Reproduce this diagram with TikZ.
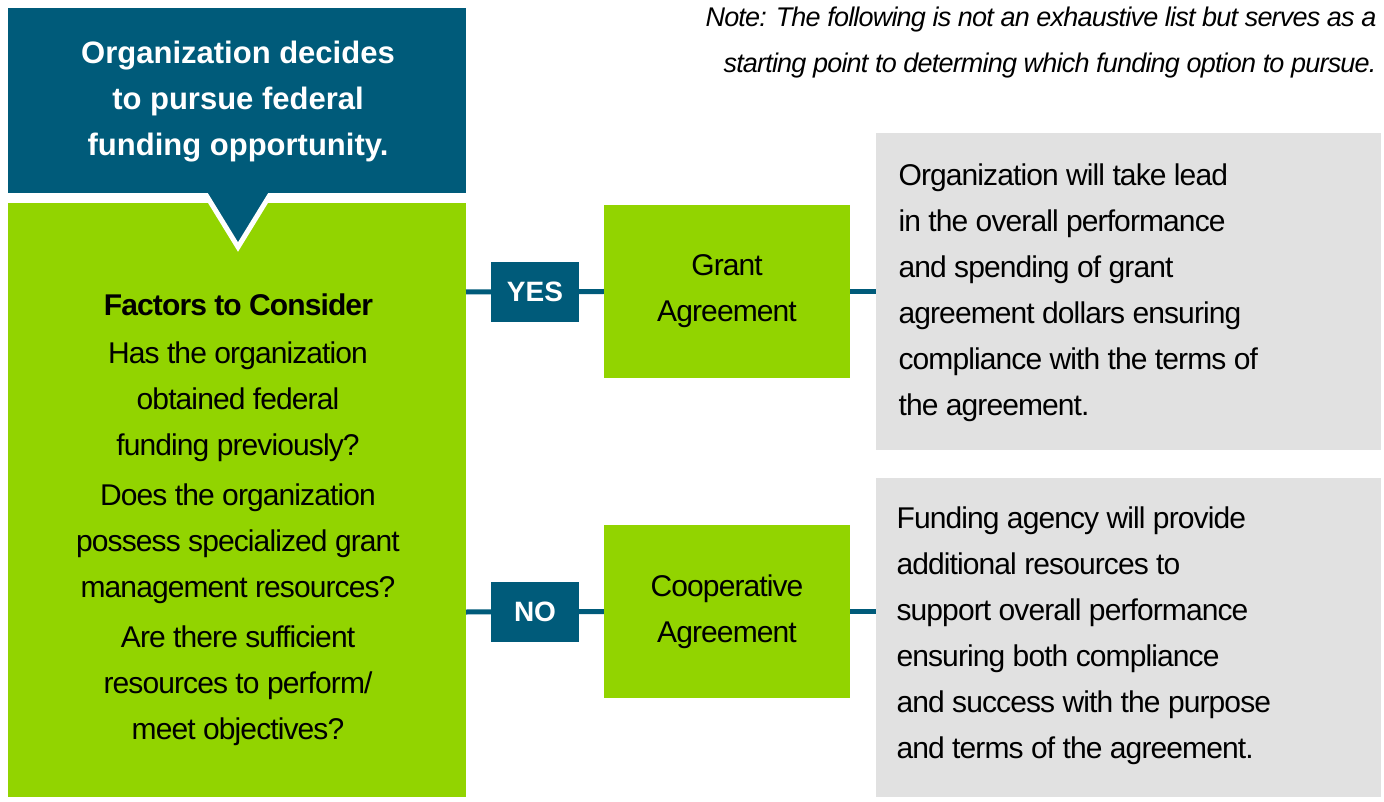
\documentclass[tikz,border=0pt]{standalone}
\usepackage{fontspec}
\setmainfont{Liberation Sans}
\definecolor{teal}{HTML}{005B7A}
\definecolor{lime}{HTML}{92D400}
\definecolor{lgray}{HTML}{E1E1E1}
\begin{document}
\begin{tikzpicture}[x=1pt,y=-1pt,
  txt/.style={font=\fontsize{30}{46}\selectfont\addfontfeatures{LetterSpace=-3}},
  lbl/.style={fill=teal,text=white,font=\fontsize{28}{30}\selectfont\bfseries,minimum width=88pt,minimum height=60pt,inner sep=0pt},
  conn/.style={teal,line width=5pt}]
\useasboundingbox (0,0) rectangle (1384,802);
\fill[lime] (8,203) rectangle (466,797);
\fill[teal] (8,8) rectangle (466,193);
\fill[teal,draw=white,line width=5pt,line join=miter] (203,190) -- (238,247) -- (273,190);
\fill[teal] (200,185) rectangle (276,193);
\node[txt,text=white,align=center,font=\fontsize{31}{46}\selectfont\bfseries] (top) at (238,102) {Organization decides\\to pursue federal\\funding opportunity.};
\node[txt,align=center] (fac) at (238,520) {\textbf{Factors to Consider}\\[2pt]Has the organization\\obtained federal\\funding previously?\\[4pt]Does the organization\\possess specialized grant\\management resources?\\[4pt]Are there sufficient\\resources to perform/\\meet objectives?};
\coordinate (g1) at (466,292);
\coordinate (g2) at (466,612);
\node[fill=lime,minimum width=246pt,minimum height=173pt,inner sep=0pt,txt,align=center] (grant) at (727,291.5) {Grant\\Agreement};
\node[fill=lime,minimum width=246pt,minimum height=173pt,inner sep=0pt,txt,align=center] (coop) at (727,611.5) {Cooperative\\Agreement};
\node[fill=lgray,minimum width=505pt,minimum height=317pt,inner sep=0pt] (d1) at (1128.5,291.5) {};
\node[fill=lgray,minimum width=505pt,minimum height=319pt,inner sep=0pt] (d2) at (1128.5,637.5) {};
\draw[conn] (g1) -- (grant.west);
\draw[conn] (g2) -- (coop.west);
\draw[conn] (grant.east) -- (d1.west|-grant.east);
\draw[conn] (coop.east) -- (d2.west|-coop.east);
\node[lbl] (yes) at (535,292) {YES};
\node[lbl] (no) at (535,612) {NO};
\node[txt,align=left,anchor=north west] (t1) at (895,160) {Organization will take lead\\in the overall performance\\and spending of grant\\agreement dollars ensuring\\compliance with the terms of\\the agreement.};
\node[txt,align=left,anchor=north west] (t2) at (893,503) {Funding agency will provide\\additional resources to\\support overall performance\\ensuring both compliance\\and success with the purpose\\and terms of the agreement.};
\node[align=right,anchor=north east,font=\fontsize{27}{46}\selectfont\itshape\addfontfeatures{LetterSpace=-3}] (note) at (1380,3) {Note: The following is not an exhaustive list but serves as a\\starting point to determing which funding option to pursue.};
\end{tikzpicture}
\end{document}
